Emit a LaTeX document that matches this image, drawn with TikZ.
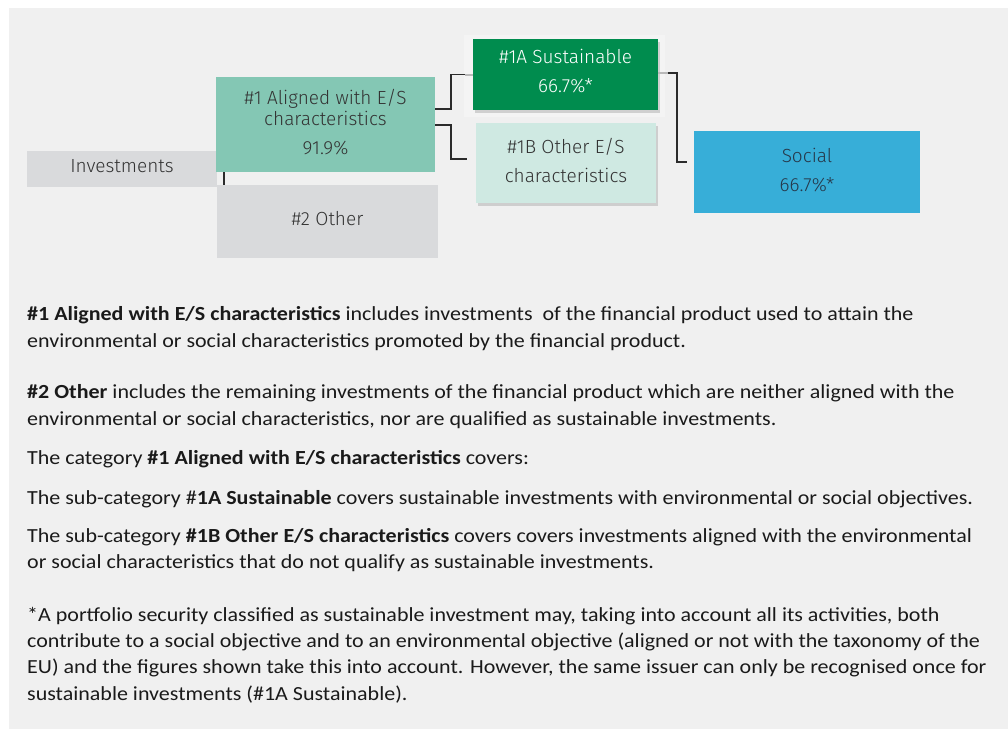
\documentclass[tikz,border=0pt]{standalone}
\usepackage{fontspec}
\setmainfont{Carlito}[FakeStretch=1.10]
\newfontfamily\boxfont{Fira Sans Light}
\usetikzlibrary{shadows}
\definecolor{bgc}{HTML}{F0F0F0}
\definecolor{halo}{HTML}{F4F4F4}
\definecolor{grayb}{HTML}{D9DADC}
\definecolor{aligned}{HTML}{84C7B4}
\definecolor{sust}{HTML}{008C4E}
\definecolor{otheres}{HTML}{CFE9E2}
\definecolor{social}{HTML}{37AED8}
\definecolor{socialtext}{HTML}{26384A}
\definecolor{linec}{HTML}{2B2B2B}
\definecolor{boxtext}{HTML}{333333}
\definecolor{bodytext}{HTML}{1A1A1A}
\tikzset{
  box/.style={rectangle, inner sep=0pt},
  boxlabel/.style={inner sep=0pt, align=center, text=boxtext,
    font=\boxfont\fontsize{19}{29}\selectfont},
  shad/.style={drop shadow={opacity=0.3, shadow xshift=1.5pt, shadow yshift=-3pt}},
  conn/.style={draw=linec, line width=1.5pt},
  tip/.style={draw=gray!55, line width=2pt},
  body/.style={anchor=base west, inner sep=0pt, text=bodytext,
    font=\fontsize{20}{24}\selectfont}
}
\begin{document}
\begin{tikzpicture}[x=1pt,y=-1pt]
\useasboundingbox (0,0) rectangle (1008,729);
\fill[bgc] (9,8) rectangle (1008,729);
\fill[halo] (464,35) rectangle (665,117);

\node[box, fill=grayb, minimum width=190pt, minimum height=36pt] (inv) at (122,169) {};
\node[boxlabel] (invt) at ([yshift=2.5pt]inv.center) {Investments};
\node[box, fill=aligned, minimum width=219pt, minimum height=95pt] (a1) at (325.5,124.5) {};
\node[boxlabel] (a1t) at ([yshift=2.5pt]a1.center) {\#1 Aligned with E/S\\[-8pt]characteristics\\91.9\%};
\node[box, fill=grayb, minimum width=221pt, minimum height=73pt] (oth) at (327.5,221.5) {};
\node[boxlabel] (otht) at ([yshift=2.5pt]oth.center) {\#2 Other};
\node[box, shad, fill=sust, minimum width=185pt, minimum height=71pt] (s1a) at (565.5,74.5) {};
\node[boxlabel, text=white] (s1at) at ([yshift=3pt]s1a.center) {\#1A Sustainable\\66.7\%*};
\node[box, shad, fill=otheres, minimum width=180pt, minimum height=80pt] (s1b) at (566,163) {};
\node[boxlabel] (s1bt) at ([yshift=2.5pt]s1b.center) {\#1B Other E/S\\characteristics};
\node[box, fill=social, minimum width=226pt, minimum height=82pt] (soc) at (807,172) {};
\node[boxlabel, text=socialtext] (soct) at ([yshift=1.5pt]soc.center) {Social\\66.7\%*};

% connectors
\draw[conn] ([xshift=8pt]a1.south west) -- ([xshift=7pt]oth.north west);
\draw[conn] ([yshift=15.5pt]a1.east) -- ++(16,0) |- ([xshift=-8pt]s1a.west);
\draw[tip] ([xshift=-8pt]s1a.west) -- (s1a.west);
\draw[conn] ([yshift=-0.5pt]a1.east) -- ++(16,0) |- ([xshift=-9pt,yshift=4pt]s1b.west);
\draw[tip] ([yshift=1.5pt]s1a.east) -- ++(10,0) coordinate (s1aout);
\draw[conn] (s1aout) -- ++(9,0) |- ([xshift=-7pt,yshift=10pt]soc.west);

% body text
\node[body] (p1a) at (27,320.5) {\textbf{\#1 Aligned with E/S characteristics} includes investments\ \ of the financial product used to attain the};
\node[body] (p1b) at (27,347) {environmental or social characteristics promoted by the financial product.};
\node[body] (p2a) at (27,398.5) {\textbf{\#2 Other} includes the remaining investments of the financial product which are neither aligned with the};
\node[body] (p2b) at (27,425) {environmental or social characteristics, nor are qualified as sustainable investments.};
\node[body] (p3) at (27,464.5) {The category \textbf{\#1 Aligned with E/S characteristics} covers:};
\node[body] (p4) at (27,504.5) {The sub-category \#\textbf{1A Sustainable} covers sustainable investments with environmental or social objectives.};
\node[body] (p5a) at (27,542.5) {The sub-category \textbf{\#1B Other E/S characteristics} covers covers investments aligned with the environmental};
\node[body] (p5b) at (27,568.5) {or social characteristics that do not qualify as sustainable investments.};
\node[body] (f1) at (27,621.5) {*A portfolio security classified as sustainable investment may, taking into account all its activities, both};
\node[body] (f2) at (27,647.5) {contribute to a social objective and to an environmental objective (aligned or not with the taxonomy of the};
\node[body] (f3) at (27,673.5) {EU) and the figures shown take this into account. However, the same issuer can only be recognised once for};
\node[body] (f4) at (27,700) {sustainable investments (\#1A Sustainable).};
\end{tikzpicture}
\end{document}
